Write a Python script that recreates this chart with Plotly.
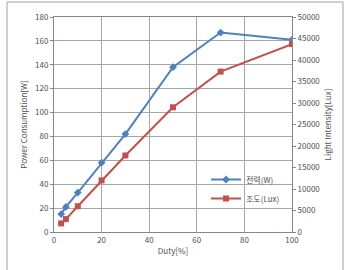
import plotly.graph_objects as go

duty = [3, 5, 10, 20, 30, 50, 70, 100]
power = [15, 21, 33, 58, 82, 138, 167, 161]
lux = [2000, 3000, 6000, 12000, 17800, 29000, 37300, 43700]

W, H = 346, 270
L, R, T, B = 54, 54, 17, 38
pw, ph = W - L - R, H - T - B

font = "Noto Sans CJK KR, Noto Sans, sans-serif"
txtc = "#505050"

fig = go.Figure()
fig.add_trace(go.Scatter(x=duty, y=power, name="전력(W)", mode="lines+markers",
                         line=dict(color="#4F81BD", width=2),
                         marker=dict(symbol="diamond", size=6, color="#4F81BD")))
fig.add_trace(go.Scatter(x=duty, y=lux, name="조도(Lux)", mode="lines+markers", yaxis="y2",
                         line=dict(color="#C0504D", width=2),
                         marker=dict(symbol="square", size=6, color="#C0504D")))

def px2x(p):
    return (p - L) / pw

def py2y(p):
    return (H - B - p) / ph

fig.add_shape(type="rect", xref="paper", yref="paper",
              x0=px2x(7), x1=px2x(343), y0=py2y(290), y1=py2y(2),
              line=dict(color="#A0A0A0", width=1), layer="below")

tickfont = dict(family=font, size=8, color=txtc)
fig.update_layout(
    width=W, height=H,
    margin=dict(l=L, r=R, t=T, b=B),
    paper_bgcolor="white", plot_bgcolor="white",
    showlegend=True,
    legend=dict(x=px2x(206), y=py2y(165), xanchor="left", yanchor="top",
                bgcolor="rgba(0,0,0,0)", font=dict(family=font, size=8, color=txtc),
                tracegroupgap=0),
    xaxis=dict(range=[0, 100], dtick=20, showgrid=True, gridcolor="#A6A6A6", gridwidth=1,
               showline=True, linecolor="#868686", mirror=True, zeroline=False,
               ticks="", tickfont=tickfont,
               title=dict(text="Duty[%]", font=dict(family=font, size=8, color=txtc), standoff=4)),
    yaxis=dict(range=[0, 180], dtick=20, showgrid=True, gridcolor="#A6A6A6", gridwidth=1,
               showline=True, linecolor="#868686", mirror=True, zeroline=False,
               ticks="outside", ticklen=3, tickcolor="#868686", tickfont=tickfont,
               title=dict(text="Power Consumption[W]", font=dict(family=font, size=8, color=txtc), standoff=6)),
    yaxis2=dict(range=[0, 50000], dtick=5000, tickformat="d", overlaying="y", side="right", showgrid=False,
                showline=True, linecolor="#868686", zeroline=False,
                ticks="outside", ticklen=3, tickcolor="#868686", tickfont=tickfont,
                title=dict(text="Light Intensity[Lux]", font=dict(family=font, size=8, color=txtc), standoff=6)),
)

fig.write_html("out.html")
